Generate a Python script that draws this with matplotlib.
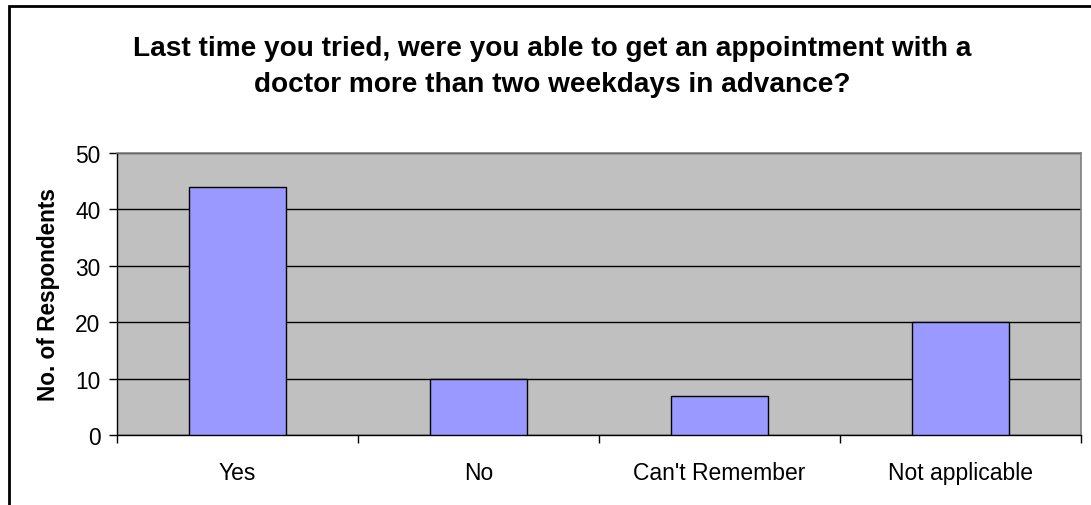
import matplotlib.pyplot as plt
import matplotlib.patches as mpatches
import numpy as np

categories = ["Yes", "No", "Can't Remember", "Not applicable"]
respondents = [44, 10, 7, 20]
y_ticks = [0, 10, 20, 30, 40, 50]

title = ("Last time you tried, were you able to get an appointment with a\n"
         "doctor more than two weekdays in advance?")

plt.rcParams["font.family"] = ["Liberation Sans", "DejaVu Sans"]

fig = plt.figure(figsize=(10.91, 5.06), dpi=100, facecolor="white")

# outer chart frame (cut off on right and bottom like the reference)
frame = mpatches.Rectangle((9 / 1091, -0.1), 1.2, 1 - 7 / 506 + 0.1,
                           transform=fig.transFigure, fill=False,
                           edgecolor="black", linewidth=2.0)
fig.patches.append(frame)

ax = fig.add_axes([117 / 1091, 1 - 436 / 506, 964 / 1091, 282 / 506])
ax.set_facecolor("#C0C0C0")

x = np.arange(len(categories))
ax.bar(x, respondents, width=0.4, color="#9999FF", edgecolor="black",
       linewidth=1.0, zorder=3)

ax.set_xlim(-0.5, len(categories) - 0.5)
ax.set_ylim(0, 50)
ax.set_yticks(y_ticks)
ax.set_yticklabels([str(v) for v in y_ticks], fontsize=16.4)
ax.yaxis.grid(True, color="black", linewidth=1.0, zorder=1)
ax.set_axisbelow(True)

# ticks sit on category boundaries, labels sit in the middle
ax.set_xticks(np.arange(len(categories) + 1) - 0.5)
ax.set_xticklabels([])
ax.set_xticks(x, minor=True)
ax.set_xticklabels(categories, minor=True, fontsize=16.5)
ax.tick_params(axis="x", which="major", direction="out", length=6, width=1)
ax.tick_params(axis="x", which="minor", length=0, pad=19)
ax.tick_params(axis="y", direction="out", length=6, width=1, pad=6)

for side in ("top", "right"):
    ax.spines[side].set_color("#808080")
    ax.spines[side].set_linewidth(1.2)
for side in ("left", "bottom"):
    ax.spines[side].set_color("black")
    ax.spines[side].set_linewidth(1.0)

ax.set_ylabel("No. of Respondents", fontsize=16.3, fontweight="bold")
ax.yaxis.set_label_coords(-0.059, 0.5)

fig.text(552 / 1091, 1 - 67 / 506, title, ha="center", va="center",
         fontsize=20.2, fontweight="bold", linespacing=1.5)

fig.savefig("out.png", dpi=100, facecolor="white")
